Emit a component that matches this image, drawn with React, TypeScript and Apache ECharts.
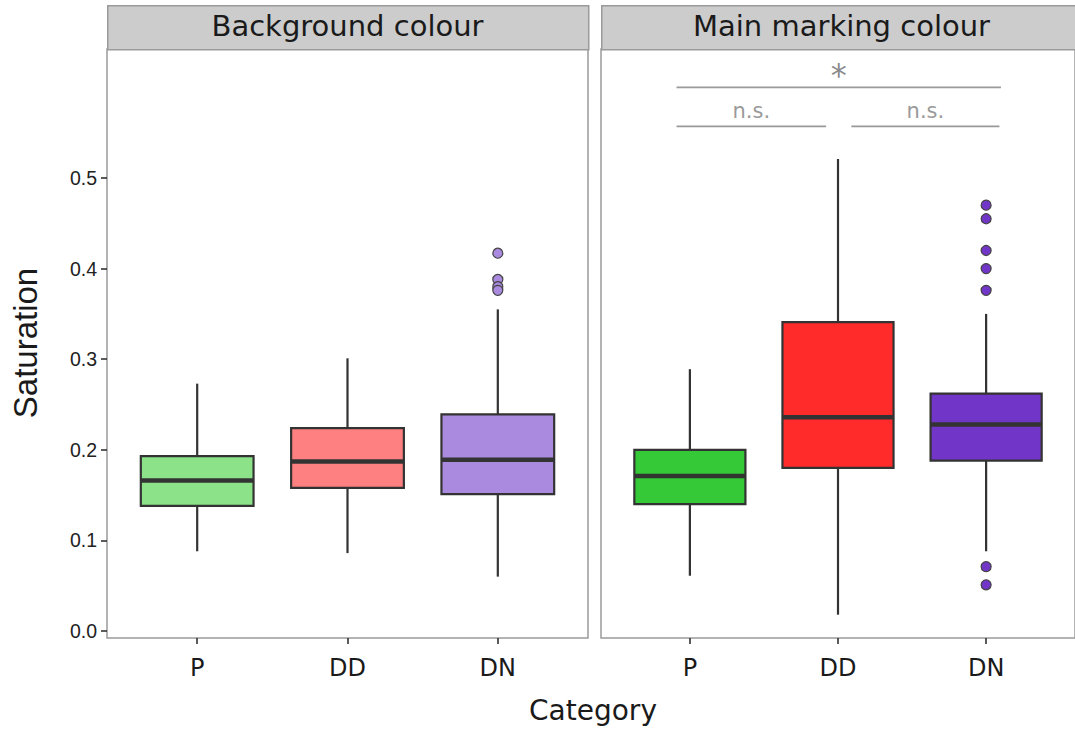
import React, { useEffect, useRef } from "react";
import * as echarts from "echarts";

// ---------- data ----------
const categories = ["P", "DD", "DN"];
const panelTitles = ["Background colour", "Main marking colour"];
const yTicks = [0, 0.1, 0.2, 0.3, 0.4, 0.5];
const xTicks = [0, 1, 2];

// [lower whisker, Q1, median, Q3, upper whisker]
const backgroundBoxes = [
  [0.088, 0.138, 0.166, 0.193, 0.273],
  [0.086, 0.158, 0.187, 0.224, 0.301],
  [0.060, 0.151, 0.189, 0.239, 0.355],
];
const markingBoxes = [
  [0.061, 0.140, 0.171, 0.200, 0.289],
  [0.018, 0.180, 0.236, 0.341, 0.521],
  [0.088, 0.188, 0.228, 0.262, 0.350],
];

// outliers: [category index, value]
const backgroundOutliers = [
  [2, 0.417],
  [2, 0.388],
  [2, 0.380],
  [2, 0.376],
];
const markingOutliers = [
  [2, 0.470],
  [2, 0.455],
  [2, 0.420],
  [2, 0.400],
  [2, 0.376],
  [2, 0.071],
  [2, 0.051],
];

const backgroundColors = ["#8be288", "#ff8080", "#a98adf"];
const markingColors = ["#35c837", "#ff2a2a", "#7136c8"];

// significance brackets (main marking colour panel)
const sigLabels = ["*", "n.s.", "n.s."];
const sigStart = [-0.09, -0.09, 1.09];
const sigEnd = [2.1, 0.92, 2.09];
const sigValue = [0.6, 0.557, 0.557];

// ---------- layout ----------
const PANEL_LEFTS = [107, 601];
const PANEL_W = 481;
const PANEL_TOP = 49;
const PANEL_H = 589;
const STRIP_TOP = 5;
const Y_MIN = -7 / 906;
const Y_MAX = 582 / 906;

const DEJAVU = "DejaVu Sans";
const ARIAL = "Liberation Sans";

function boxSeries(boxes: number[][], colors: string[], idx: number) {
  return {
    type: "custom",
    xAxisIndex: idx,
    yAxisIndex: idx,
    data: boxes.map((b, i) => [i, ...b]),
    encode: { x: 0, y: [1, 2, 3, 4, 5] },
    renderItem: (params: any, api: any) => {
      const i = api.value(0);
      const lo = api.value(1);
      const q1 = api.value(2);
      const med = api.value(3);
      const q3 = api.value(4);
      const hi = api.value(5);
      const bw = api.size([1, 0])[0] * 0.75;
      const cx = api.coord([i, lo])[0];
      const yLo = api.coord([i, lo])[1];
      const yQ1 = api.coord([i, q1])[1];
      const yMed = api.coord([i, med])[1];
      const yQ3 = api.coord([i, q3])[1];
      const yHi = api.coord([i, hi])[1];
      const stroke = "#333333";
      return {
        type: "group",
        children: [
          {
            type: "line",
            shape: { x1: cx, y1: yHi, x2: cx, y2: yQ3 },
            style: { stroke, lineWidth: 2.2 },
          },
          {
            type: "line",
            shape: { x1: cx, y1: yQ1, x2: cx, y2: yLo },
            style: { stroke, lineWidth: 2.2 },
          },
          {
            type: "rect",
            shape: { x: cx - bw / 2, y: yQ3, width: bw, height: yQ1 - yQ3 },
            style: { fill: colors[params.dataIndex], stroke, lineWidth: 2.2 },
          },
          {
            type: "line",
            shape: { x1: cx - bw / 2, y1: yMed, x2: cx + bw / 2, y2: yMed },
            style: { stroke, lineWidth: 4.5 },
          },
        ],
      };
    },
  };
}

function outlierSeries(points: number[][], colors: string[], idx: number) {
  return {
    type: "scatter",
    xAxisIndex: idx,
    yAxisIndex: idx,
    symbolSize: 10,
    data: points.map((p) => ({
      value: p,
      itemStyle: {
        color: colors[p[0]],
        borderColor: "#444",
        borderWidth: 1.2,
        opacity: 1,
      },
    })),
  };
}

export default function App() {
  const ref = useRef<HTMLDivElement>(null);

  useEffect(() => {
    if (!ref.current) return;
    const chart = echarts.init(ref.current, undefined, { renderer: "svg" });

    const grids = PANEL_LEFTS.map((left) => ({
      left,
      top: PANEL_TOP,
      width: PANEL_W,
      height: PANEL_H,
      show: true,
      backgroundColor: "#ffffff",
      borderColor: "#9a9a9a",
      borderWidth: 1.5,
      containLabel: false,
    }));

    const xAxes = PANEL_LEFTS.map((_, idx) => ({
      type: "value",
      gridIndex: idx,
      position: "bottom",
      min: -0.6,
      max: 2.6,
      axisLine: { show: false, onZero: false },
      splitLine: { show: false },
      axisTick: {
        show: true,
        length: 6,
        customValues: xTicks,
        lineStyle: { color: "#333", width: 1.6 },
      },
      axisLabel: {
        customValues: xTicks,
        formatter: (v: number) => categories[Math.round(v)] ?? "",
        fontFamily: DEJAVU,
        fontSize: 24,
        color: "#1a1a1a",
        margin: 18,
      },
    }));

    const yAxes = PANEL_LEFTS.map((_, idx) => ({
      type: "value",
      gridIndex: idx,
      position: "left",
      min: Y_MIN,
      max: Y_MAX,
      show: idx === 0,
      axisLine: { show: false, onZero: false },
      splitLine: { show: false },
      axisTick: {
        show: idx === 0,
        length: 6,
        customValues: yTicks,
        lineStyle: { color: "#333", width: 1.6 },
      },
      axisLabel: {
        show: idx === 0,
        customValues: yTicks,
        formatter: (v: number) => v.toFixed(1),
        fontFamily: ARIAL,
        fontSize: 19.5,
        color: "#222",
        margin: 10,
      },
    }));

    const sigSeries = {
      type: "custom",
      xAxisIndex: 1,
      yAxisIndex: 1,
      data: sigLabels.map((l, k) => [sigStart[k], sigEnd[k], sigValue[k]]),
      renderItem: (params: any, api: any) => {
        const k = params.dataIndex;
        const p1 = api.coord([api.value(0), api.value(2)]);
        const p2 = api.coord([api.value(1), api.value(2)]);
        const isStar = sigLabels[k] === "*";
        return {
          type: "group",
          children: [
            {
              type: "line",
              shape: { x1: p1[0], y1: p1[1], x2: p2[0], y2: p2[1] },
              style: { stroke: "#999999", lineWidth: 1.8 },
            },
            {
              type: "text",
              x: (p1[0] + p2[0]) / 2,
              y: p1[1] - (isStar ? 12 : 15),
              style: {
                text: sigLabels[k],
                fill: isStar ? "#8a8a8a" : "#9a9a9a",
                font: `${isStar ? 32 : 21}px '${DEJAVU}'`,
                align: "center",
                verticalAlign: "middle",
              },
            },
          ],
        };
      },
    };

    const graphics: any[] = [];
    PANEL_LEFTS.forEach((left, idx) => {
      graphics.push({
        type: "rect",
        left,
        top: STRIP_TOP,
        shape: { x: 0, y: 0, width: PANEL_W, height: PANEL_TOP - STRIP_TOP },
        style: { fill: "#cccccc", stroke: "#9a9a9a", lineWidth: 1.5 },
        z: 10,
      });
      graphics.push({
        type: "text",
        x: left + PANEL_W / 2,
        y: (STRIP_TOP + PANEL_TOP) / 2 - 1,
        style: {
          text: panelTitles[idx],
          font: `29px '${DEJAVU}'`,
          fill: "#1a1a1a",
          align: "center",
          verticalAlign: "middle",
        },
        z: 11,
      });
    });
    graphics.push({
      type: "text",
      x: 593,
      y: 710,
      style: {
        text: "Category",
        font: `28px '${DEJAVU}'`,
        fill: "#1a1a1a",
        align: "center",
        verticalAlign: "middle",
      },
    });
    graphics.push({
      type: "text",
      x: 25,
      y: 343,
      rotation: Math.PI / 2,
      style: {
        text: "Saturation",
        font: `33px '${ARIAL}'`,
        fill: "#1a1a1a",
        align: "center",
        verticalAlign: "middle",
      },
    });

    chart.setOption({
      animation: false,
      backgroundColor: "#ffffff",
      grid: grids,
      xAxis: xAxes,
      yAxis: yAxes,
      graphic: graphics,
      series: [
        boxSeries(backgroundBoxes, backgroundColors, 0),
        boxSeries(markingBoxes, markingColors, 1),
        outlierSeries(backgroundOutliers, backgroundColors, 0),
        outlierSeries(markingOutliers, markingColors, 1),
        sigSeries,
      ],
    });

    return () => chart.dispose();
  }, []);

  return (
    <div
      ref={ref}
      style={{ position: "fixed", left: 0, top: 0, width: 1075, height: 731 }}
    />
  );
}
